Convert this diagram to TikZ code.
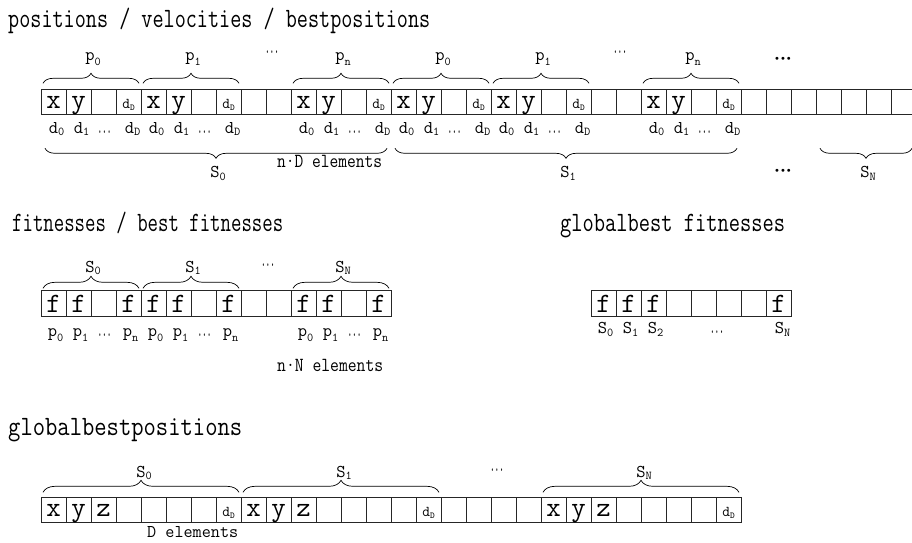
\documentclass[tikz,border=0pt]{standalone}
\usepackage{fontspec}
\newfontfamily\dejavu{DejaVu Sans}
\renewcommand{\familydefault}{\ttdefault}
\usetikzlibrary{decorations.pathreplacing,positioning}

\newcommand{\wtext}[2]{\resizebox{#1pt}{\height}{#2}}
\newcommand{\lowsub}[2][3pt]{\raisebox{-#1}{\fontsize{12}{12}\selectfont #2}}
\newcommand{\dD}{{\fontsize{15}{15}\selectfont d\raisebox{-2pt}{\fontsize{9}{9}\selectfont D}}}
\newcommand{\dts}{\wtext{14}{\fontsize{24}{24}\selectfont ...}}

\tikzset{
  cell/.style={draw=black!85, line width=0.9pt, minimum width=25pt, minimum height=25pt,
    inner sep=0pt, outer sep=0pt, font=\ttfamily\fontsize{28}{28}\selectfont, text height=16pt, text depth=3pt},
  fcell/.style={cell, minimum height=26pt, text height=19pt, text depth=0pt},
  lbl/.style={anchor=base, inner sep=0pt, font=\ttfamily\fontsize{18}{18}\selectfont},
  title/.style={anchor=base west, inner sep=0pt, font=\ttfamily\fontsize{28}{28}\selectfont},
  blob/.style={inner sep=0pt, font=\dejavu\fontsize{10}{10}\selectfont},
  brup/.style={decorate, decoration={brace, amplitude=10pt}, line width=0.7pt},
  brupw/.style={brup, decoration={amplitude=12pt}},
  brdown/.style={decorate, decoration={brace, mirror, amplitude=10pt}, line width=0.7pt}
}

\begin{document}
\begin{tikzpicture}[x=1pt, y=1pt]
    \useasboundingbox (0,0) rectangle (912,-542);

    % positions / velocities / bestpositions
    \node[title] (t1) at (8,-27) {\wtext{422}{positions / velocities / bestpositions}};

    \foreach \t [count=\i from 0] in {x,y,{},\dD,x,y,{},\dD,{},{},x,y,{},\dD,x,y,{},\dD,x,y,{},\dD,{},{},x,y,{},\dD,{},{},{},{},{},{},{}}
        \node[cell] (a\i) at ({53.5+25*\i},-101.8) {\t};

    \foreach \g [evaluate=\g as \ga using int(\g+1), evaluate=\g as \gb using int(\g+2),
                 evaluate=\g as \gc using int(\g+3)] in {0,4,10,14,18,24} {
        \node[lbl] (dz\g) at ([shift={(3,-19)}]a\g.south) {d\lowsub[2pt]{0}};
        \node[lbl] (do\g) at ([shift={(3,-19)}]a\ga.south) {d\lowsub[2pt]{1}};
        \node[lbl] (dm\g) at ([shift={(1,-19)}]a\gb.south) {\dts};
        \node[lbl] (dd\g) at ([shift={(4,-19)}]a\gc.south) {d\lowsub[2pt]{D}};
    }

    \foreach \s/\e/\q in {0/3/0,4/7/1,10/13/n,14/17/0,18/21/1,24/27/n}
        \draw[brup] ([shift={(2,6)}]a\s.north west) -- ([shift={(-2,6)}]a\e.north east)
            node[lbl, midway, yshift=23pt, xshift=2pt] (p\s) {p\lowsub[5pt]{\q}};

    \foreach \s/\e/\q in {0/13/0,14/27/1,31/34/N}
        \draw[brdown] ([shift={(4,-34)}]a\s.south west) -- ([shift={(-4,-34)}]a\e.south east)
            node[lbl, midway, yshift=-29pt, xshift=2pt] (s\s) {S\lowsub{\q}};

    \node[inner sep=0pt] (dta) at (272,-52) {\dts};
    \node[inner sep=0pt] (dtb) at (620,-52) {\dts};
    \node[blob] (bla) at (783,-60) {•••};
    \node[blob] (blb) at (783,-172) {•••};
    \node[lbl, anchor=base west, font=\ttfamily\fontsize{20}{20}\selectfont] (nd) at (277,-167) {\wtext{105}{n·D elements}};

    % fitnesses / best fitnesses
    \node[title] (t2) at (12,-231) {\wtext{271}{fitnesses / best fitnesses}};

    \foreach \t [count=\i from 0] in {f,f,{},f,f,f,{},f,{},{},f,f,{},f}
        \node[fcell] (b\i) at ({53.5+25*\i},-303.3) {\t};

    \foreach \g [evaluate=\g as \ga using int(\g+1), evaluate=\g as \gb using int(\g+2),
                 evaluate=\g as \gc using int(\g+3)] in {0,4,10} {
        \node[lbl] (pz\g) at ([shift={(2,-20)}]b\g.south) {p\lowsub[5pt]{0}};
        \node[lbl] (po\g) at ([shift={(2,-20)}]b\ga.south) {p\lowsub[5pt]{1}};
        \node[lbl] (pm\g) at ([shift={(1,-20)}]b\gb.south) {\dts};
        \node[lbl] (pd\g) at ([shift={(2,-20)}]b\gc.south) {p\lowsub[5pt]{n}};
    }

    \foreach \s/\e/\q in {0/3/0,4/7/1,10/13/N}
        \draw[brupw] ([shift={(2,2)}]b\s.north west) -- ([shift={(-2,2)}]b\e.north east)
            node[lbl, midway, yshift=16pt, xshift=2pt] (f\s) {S\lowsub[2pt]{\q}};

    \node[inner sep=0pt] (dtc) at (268,-265) {\dts};
    \node[lbl, anchor=base west, font=\ttfamily\fontsize{20}{20}\selectfont] (nn) at (277,-371) {\wtext{106}{n·N elements}};

    % globalbest fitnesses
    \node[title] (t3) at (560,-231) {\wtext{225}{globalbest fitnesses}};

    \foreach \t [count=\i from 0] in {f,f,f,{},{},{},{},f}
        \node[fcell] (c\i) at ({603.5+25*\i},-303.3) {\t};

    \foreach \i in {0,1,2}
        \node[lbl] (g\i) at ([shift={(2,-17)}]c\i.south) {S\lowsub{\i}};
    \node[lbl] (gm) at ([shift={(1,-17)}]c4.south east) {\dts};
    \node[lbl] (gn) at ([shift={(4,-17)}]c7.south) {S\lowsub{N}};

    % globalbestpositions
    \node[title] (t4) at (8,-435) {\wtext{234}{globalbestpositions}};

    \foreach \t [count=\i from 0] in {x,y,z,{},{},{},{},\dD,x,y,z,{},{},{},{},\dD,{},{},{},{},x,y,z,{},{},{},{},\dD}
        \node[cell] (e\i) at ({53.5+25*\i},-509.8) {\t};

    \foreach \s/\e/\q in {0/7/0,8/15/1,20/27/N}
        \draw[brupw] ([shift={(2,5)}]e\s.north west) -- ([shift={(-2,5)}]e\e.north east)
            node[lbl, midway, yshift=15pt, xshift=3pt] (h\s) {S\lowsub[2pt]{\q}};

    \node[inner sep=0pt] (dtd) at (497,-470) {\dts};
    \node[lbl, anchor=base west] (de) at (147,-537) {\wtext{91}{D elements}};
\end{tikzpicture}
\end{document}
